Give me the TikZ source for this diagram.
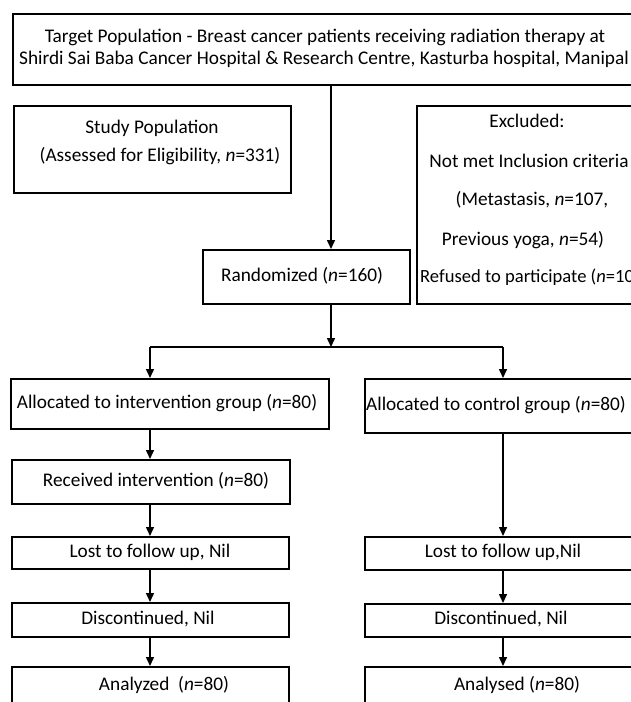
\documentclass[tikz,border=0pt]{standalone}
\usepackage{fontspec}
\setmainfont{Carlito}
\usetikzlibrary{arrows.meta}
\begin{document}
\begin{tikzpicture}[x=1pt,y=-1pt,
  box/.style={draw, line width=1.5pt, rectangle, inner sep=0pt, anchor=north west},
  txt/.style={font=\fontsize{19.3}{22}\selectfont, inner sep=0pt, anchor=center},
  arr/.style={line width=1.5pt, -{Triangle[length=9pt,width=8pt]}},
  ln/.style={line width=1.5pt}]
\useasboundingbox (0,0) rectangle (631,702);
\clip (0,0) rectangle (631,702);
% boxes
\node[box, minimum width=625pt, minimum height=71pt] (target) at (12,13) {};
\node[box, minimum width=277pt, minimum height=87pt] (study) at (13,105) {};
\node[box, minimum width=223pt, minimum height=198pt] (excl) at (416,105) {};
\node[box, minimum width=207pt, minimum height=54pt] (rand) at (202,249) {};
\node[box, minimum width=318pt, minimum height=50pt] (alloci) at (10,378) {};
\node[box, minimum width=276pt, minimum height=54pt] (allocc) at (364,378) {};
\node[box, minimum width=278pt, minimum height=44pt] (recv) at (11,459) {};
\node[box, minimum width=277pt, minimum height=32pt] (lost1) at (11,536) {};
\node[box, minimum width=276pt, minimum height=33pt] (lost2) at (364,536) {};
\node[box, minimum width=277pt, minimum height=34pt] (disc1) at (11,602) {};
\node[box, minimum width=276pt, minimum height=33pt] (disc2) at (364,603) {};
\node[box, minimum width=277pt, minimum height=60pt] (anal1) at (11,666) {};
\node[box, minimum width=276pt, minimum height=60pt] (anal2) at (364,666) {};
% texts
\node[txt] (t1) at (325,37) {Target Population - Breast cancer patients receiving radiation therapy at};
\node[txt] (t2) at (324,59) {Shirdi Sai Baba Cancer Hospital \& Research Centre, Kasturba hospital, Manipal};
\node[txt] (s1) at (152,128) {Study Population};
\node[txt] (s2) at (160,156) {(Assessed for Eligibility, \textit{n}=331)};
\node[txt] (e1) at (527,121) {Excluded:};
\node[txt] (e2) at (529,161) {Not met Inclusion criteria};
\node[txt] (e3) at (532,200) {(Metastasis, \textit{n}=107,};
\node[txt] (e4) at (523,240) {Previous yoga, \textit{n}=54)};
\node[txt, anchor=west, font=\fontsize{18.6}{22}\selectfont] (e5) at (420,277) {Refused to participate (\textit{n}=10)};
\node[txt] (r1) at (302,276) {Randomized (\textit{n}=160)};
\node[txt] (ai) at (167,403) {Allocated to intervention group (\textit{n}=80)};
\node[txt] (ac) at (496,405) {Allocated to control group (\textit{n}=80)};
\node[txt] (rv) at (156,481) {Received intervention (\textit{n}=80)};
\node[txt] (l1) at (150,552) {Lost to follow up, Nil};
\node[txt] (l2) at (503,552) {Lost to follow up,Nil};
\node[txt] (d1) at (148,619) {Discontinued, Nil};
\node[txt] (d2) at (501,619) {Discontinued, Nil};
\node[txt] (n1) at (164,685) {Analyzed\ \ (\textit{n}=80)};
\node[txt] (n2) at (517,685) {Analysed (\textit{n}=80)};
% connectors
\coordinate (split) at (331,347);
\coordinate (ls) at (150,347);
\coordinate (rs) at (503,347);
\draw[arr] (target.south -| split) -- (rand.north -| split);
\draw[arr] (rand.south -| split) -- (split);
\draw[ln] (ls) -- (rs);
\draw[arr] (ls) -- (alloci.north -| ls);
\draw[arr] (rs) -- (allocc.north -| rs);
\draw[arr] (alloci.south -| ls) -- (recv.north -| ls);
\draw[arr] (recv.south -| ls) -- (lost1.north -| ls);
\draw[arr] (lost1.south -| ls) -- (disc1.north -| ls);
\draw[arr] (disc1.south -| ls) -- (anal1.north -| ls);
\draw[arr] (allocc.south -| rs) -- (lost2.north -| rs);
\draw[arr] (lost2.south -| rs) -- (disc2.north -| rs);
\draw[arr] (disc2.south -| rs) -- (anal2.north -| rs);
\end{tikzpicture}
\end{document}
